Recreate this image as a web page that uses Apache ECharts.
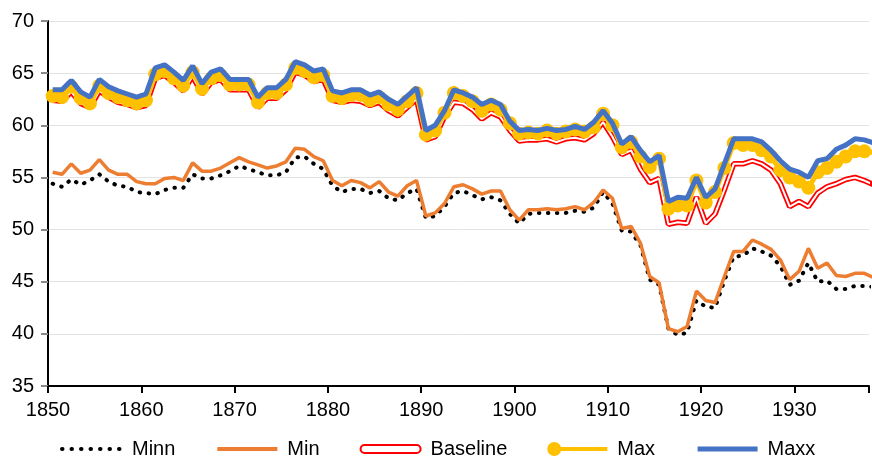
<!DOCTYPE html>
<html>
<head>
<meta charset="utf-8">
<script src="https://cdn.jsdelivr.net/npm/echarts@6/dist/echarts.min.js"></script>
<style>
  html, body { margin: 0; padding: 0; background: #fff; }
  #chart { width: 872px; height: 459px; }
</style>
</head>
<body>
<div id="chart"></div>
<script>
// yearly values, 1850 - 1938
const firstYear = 1850
const minn = [54.4, 54.1, 54.8, 54.3, 54.7, 55.3, 54.6, 54.2, 54.1, 53.6, 53.5, 53.4, 53.8, 54.0, 54.0, 55.3, 54.9, 54.9, 55.2, 55.6,
  56.1, 55.8, 55.5, 55.2, 55.2, 55.5, 56.9, 57.0, 56.3, 55.8, 54.2, 53.6, 53.9, 53.9, 53.5, 53.7, 53.0, 52.8, 53.5, 53.9,
  51.1, 51.3, 52.2, 53.5, 53.7, 53.3, 52.9, 53.1, 52.8, 51.5, 50.6, 51.5, 51.6, 51.6, 51.6, 51.6, 51.8, 51.7, 52.1, 53.6,
  52.5, 49.9, 49.8, 48.5, 45.2, 44.7, 40.5, 39.9, 40.1, 43.2, 42.6, 42.5, 45.1, 47.4, 47.5, 48.2, 47.9, 47.5, 46.5, 44.7,
  45.1, 46.8, 45.0, 45.1, 44.3, 44.3, 44.6, 44.6, 44.5]
const min = [55.5, 55.3, 56.3, 55.4, 55.7, 56.7, 55.7, 55.3, 55.3, 54.6, 54.4, 54.4, 54.9, 55.0, 54.7, 56.4, 55.6, 55.6, 55.9, 56.4,
  56.9, 56.5, 56.2, 55.9, 56.1, 56.5, 57.8, 57.7, 57.0, 56.6, 54.7, 54.2, 54.7, 54.5, 54.0, 54.6, 53.6, 53.2, 54.2, 54.7,
  51.3, 51.6, 52.5, 54.1, 54.3, 53.9, 53.4, 53.7, 53.7, 51.9, 50.9, 51.9, 51.9, 52.0, 51.9, 52.0, 52.2, 51.9, 52.6, 53.8,
  53.0, 50.1, 50.3, 48.7, 45.5, 44.9, 40.5, 40.2, 40.7, 44.1, 43.2, 43.0, 45.5, 47.9, 47.9, 49.0, 48.6, 48.1, 47.1, 45.2,
  46.0, 48.2, 46.3, 46.8, 45.6, 45.5, 45.8, 45.8, 45.4]
const baseline = [62.4, 62.3, 63.2, 62.1, 61.7, 63.3, 62.7, 62.2, 62.0, 61.7, 61.9, 64.5, 64.8, 64.1, 63.3, 64.7, 63.0, 64.1, 64.4, 63.4,
  63.4, 63.4, 61.7, 62.6, 62.6, 63.4, 65.1, 64.8, 64.2, 64.4, 62.4, 62.2, 62.4, 62.3, 61.9, 62.2, 61.4, 60.9, 61.7, 62.5,
  58.6, 58.9, 60.8, 62.2, 62.1, 61.5, 60.6, 61.2, 60.8, 59.5, 58.5, 58.6, 58.6, 58.7, 58.4, 58.7, 58.8, 58.6, 59.2, 60.3,
  58.9, 57.2, 57.6, 55.8, 54.5, 54.9, 50.5, 50.7, 50.6, 53.1, 50.6, 51.5, 53.8, 56.3, 56.3, 56.6, 56.3, 55.7, 54.4, 52.2,
  52.7, 52.2, 53.5, 54.1, 54.4, 54.8, 55.0, 54.7, 54.3]
const max = [62.8, 62.7, 63.7, 62.6, 62.1, 63.8, 63.1, 62.7, 62.4, 62.1, 62.4, 64.9, 65.2, 64.5, 63.8, 65.1, 63.5, 64.5, 64.8, 63.9,
  63.9, 63.9, 62.2, 63.1, 63.1, 63.9, 65.5, 65.2, 64.6, 64.8, 62.8, 62.6, 62.9, 62.9, 62.4, 62.7, 62.0, 61.5, 62.3, 63.1,
  59.1, 59.5, 61.2, 63.1, 62.8, 62.3, 61.4, 62.0, 61.5, 60.2, 59.2, 59.3, 59.2, 59.5, 59.2, 59.4, 59.6, 59.4, 59.8, 61.1,
  60.0, 57.9, 58.4, 57.0, 56.0, 56.8, 52.0, 52.3, 52.3, 54.7, 52.6, 53.6, 55.9, 58.3, 58.1, 58.1, 57.6, 57.0, 55.7, 55.0,
  54.6, 54.0, 55.5, 55.9, 56.5, 57.0, 57.5, 57.5, 57.4]
const maxx = [63.4, 63.4, 64.3, 63.2, 62.7, 64.4, 63.7, 63.3, 63.0, 62.7, 63.0, 65.5, 65.8, 65.1, 64.3, 65.7, 64.0, 65.1, 65.4, 64.4,
  64.4, 64.4, 62.7, 63.6, 63.6, 64.4, 66.1, 65.8, 65.2, 65.4, 63.3, 63.1, 63.4, 63.4, 62.9, 63.2, 62.5, 62.0, 62.8, 63.6,
  59.5, 60.0, 61.4, 63.4, 63.1, 62.7, 62.0, 62.4, 62.0, 60.4, 59.5, 59.6, 59.5, 59.7, 59.5, 59.6, 59.9, 59.6, 60.3, 61.4,
  60.2, 58.2, 58.9, 57.6, 56.5, 57.1, 52.7, 53.1, 53.0, 55.0, 53.1, 53.9, 56.3, 58.7, 58.7, 58.7, 58.4, 57.6, 56.6, 55.8,
  55.5, 55.0, 56.6, 56.8, 57.7, 58.1, 58.7, 58.6, 58.3]

const years = minn.map((_, i) => firstYear + i)
// points sit in the middle of each year
const pts = arr => arr.map((v, i) => [years[i] + 0.5, v])

const FONT = 'Liberation Sans'
const noMarker = { opacity: 0 }
const chart = echarts.init(document.getElementById('chart'))

chart.setOption({
  animation: false,
  textStyle: { fontFamily: FONT },
  grid: { left: 48, right: 0, top: 21, bottom: 73 },
  legend: {
    left: 55,
    top: 434,
    itemWidth: 60,
    itemHeight: 14,
    itemGap: 40,
    textStyle: { fontSize: 20, color: '#000', fontFamily: FONT, padding: [0, 0, 0, 5] },
    data: [
      { name: 'Minn', itemStyle: noMarker, lineStyle: { width: 4, type: [0.5, 9], cap: 'round' } },
      { name: 'Min', itemStyle: noMarker, lineStyle: { width: 4 } },
      {
        name: 'Baseline',
        icon: 'path://M4,0L56,0A4,4,0,0,1,56,8L4,8A4,4,0,0,1,4,0Z',
        itemStyle: { color: '#fff', borderColor: '#ff0000', borderWidth: 2 }
      },
      {
        name: 'Max',
        icon: 'path://M0,7A7,7,0,1,1,14,7A7,7,0,1,1,0,7ZM10,5L60,5L60,9L10,9Z',
        itemStyle: { color: '#ffc000', borderWidth: 0 }
      },
      { name: 'Maxx', itemStyle: noMarker, lineStyle: { width: 5 } }
    ]
  },
  xAxis: {
    type: 'value',
    min: 1850,
    max: 1938,
    interval: 10,
    axisLine: { lineStyle: { color: '#000', width: 2 } },
    axisTick: { length: 7, lineStyle: { color: '#000', width: 2 } },
    axisLabel: {
      fontSize: 20,
      color: '#000',
      margin: 14,
      formatter: v => (v % 10 === 0 ? String(v) : '')
    },
    splitLine: { show: false }
  },
  yAxis: {
    type: 'value',
    min: 35,
    max: 70,
    interval: 5,
    axisLine: { show: true, lineStyle: { color: '#000', width: 2 } },
    axisTick: { show: true, length: 7, lineStyle: { color: '#888', width: 2 } },
    axisLabel: { fontSize: 20, color: '#000', margin: 14 },
    splitLine: { lineStyle: { color: '#e3e3e3', width: 1 } }
  },
  series: [
    {
      name: 'Minn',
      type: 'line',
      data: pts(minn),
      symbol: 'none',
      lineStyle: { color: '#000', width: 4, type: [0.5, 8.5], cap: 'round' },
      itemStyle: { color: '#000' }
    },
    {
      name: 'Min',
      type: 'line',
      data: pts(min),
      symbol: 'none',
      lineStyle: { color: '#ed7d31', width: 3.5 },
      itemStyle: { color: '#ed7d31' }
    },
    {
      name: 'Baseline',
      type: 'line',
      data: pts(baseline),
      symbol: 'none',
      lineStyle: { color: '#ff0000', width: 5.5 },
      itemStyle: { color: '#ff0000' }
    },
    {
      name: 'BaselineCore',
      type: 'line',
      data: pts(baseline),
      symbol: 'none',
      silent: true,
      lineStyle: { color: '#fff', width: 2 }
    },
    {
      name: 'Max',
      type: 'line',
      data: pts(max),
      symbol: 'circle',
      symbolSize: 14,
      showAllSymbol: true,
      lineStyle: { color: '#ffc000', width: 5 },
      itemStyle: { color: '#ffc000', borderWidth: 0 }
    },
    {
      // blue line sits above the yellow markers
      name: 'Maxx',
      type: 'line',
      z: 10,
      data: pts(maxx),
      symbol: 'none',
      lineStyle: { color: '#4472c4', width: 5 },
      itemStyle: { color: '#4472c4' }
    }
  ]
})
</script>
</body>
</html>
